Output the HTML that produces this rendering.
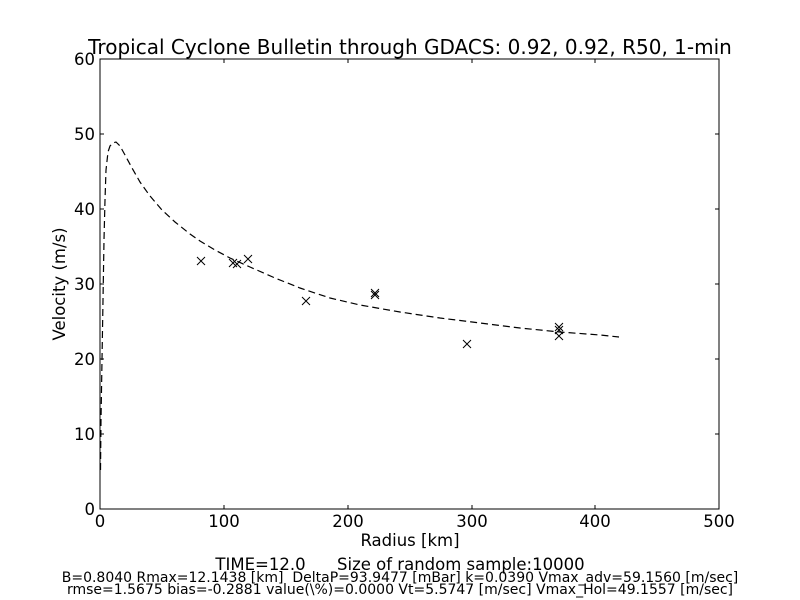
<!DOCTYPE html>
<html><head><meta charset="utf-8"><style>
html,body{margin:0;padding:0;background:#fff;}
svg{display:block;font-family:"DejaVu Sans","Liberation Sans",sans-serif;}
text{white-space:pre;}
</style></head><body>
<svg width="800" height="600" viewBox="0 0 800 600">
<rect width="800" height="600" fill="#fff"/>
<text x="410" y="54" font-size="20" text-anchor="middle">Tropical Cyclone Bulletin through GDACS: 0.92, 0.92, R50, 1-min</text>
<g stroke="#000" stroke-width="1">
<path d="M100,509v-4M224,509v-4M348,509v-4M472,509v-4M595,509v-4M719,509v-4
M100,59v4M224,59v4M348,59v4M472,59v4M595,59v4M719,59v4
M100,509h4M100,434h4M100,359h4M100,284h4M100,209h4M100,134h4M100,59h4
M719,509h-4M719,434h-4M719,359h-4M719,284h-4M719,209h-4M719,134h-4M719,59h-4"/>
</g>
<path d="M100.5,470 L101,420 L102,360 L103,300 L104,240 L105,200 L106,170 L108,152 L110,146 L113,143 L116,142 L120,146 L125,155 L132,168 L140,182 L150,196 L162,210 L175,222 L190,234 L200,241 L215,250 L230,258 L250,267 L275,278 L300,288 L330,298 L360,305 L400,312 L440,318 L480,323 L520,328 L560,332 L600,335 L619,337" fill="none" stroke="#000" stroke-width="1.2" stroke-dasharray="7,4"/>
<g stroke="#000" stroke-width="1" fill="none">
<path d="M197,257l8,8M205,257l-8,8"/>
<path d="M229,259l8,8M237,259l-8,8"/>
<path d="M233,260l8,8M241,260l-8,8"/>
<path d="M244,255l8,8M252,255l-8,8"/>
<path d="M302,297l8,8M310,297l-8,8"/>
<path d="M371,289l8,8M379,289l-8,8"/>
<path d="M371,291l8,8M379,291l-8,8"/>
<path d="M463,340l8,8M471,340l-8,8"/>
<path d="M555,323l8,8M563,323l-8,8"/>
<path d="M555,326l8,8M563,326l-8,8"/>
<path d="M555,332l8,8M563,332l-8,8"/>
</g>
<rect x="100" y="59" width="619" height="450" fill="none" stroke="#000" stroke-width="1"/>
<g font-size="16.5" text-anchor="middle">
<text x="100" y="527">0</text><text x="224" y="527">100</text><text x="348" y="527">200</text><text x="472" y="527">300</text><text x="595" y="527">400</text><text x="719" y="527">500</text>
</g>
<g font-size="16.5" text-anchor="end">
<text x="95" y="515">0</text><text x="95" y="440">10</text><text x="95" y="365">20</text><text x="95" y="290">30</text><text x="95" y="215">40</text><text x="95" y="140">50</text><text x="95" y="65">60</text>
</g>
<text x="410" y="546" font-size="16.5" text-anchor="middle">Radius [km]</text>
<text transform="translate(65,284) rotate(-90)" font-size="16.5" text-anchor="middle">Velocity (m/s)</text>
<text x="400" y="570" font-size="16.5" text-anchor="middle">TIME=12.0      Size of random sample:10000</text>
<text x="400" y="582" font-size="14" text-anchor="middle">B=0.8040 Rmax=12.1438 [km]  DeltaP=93.9477 [mBar] k=0.0390 Vmax_adv=59.1560 [m/sec]</text>
<text x="400" y="594" font-size="14" text-anchor="middle">rmse=1.5675 bias=-0.2881 value(\%)=0.0000 Vt=5.5747 [m/sec] Vmax_Hol=49.1557 [m/sec]</text>
</svg>
</body></html>
